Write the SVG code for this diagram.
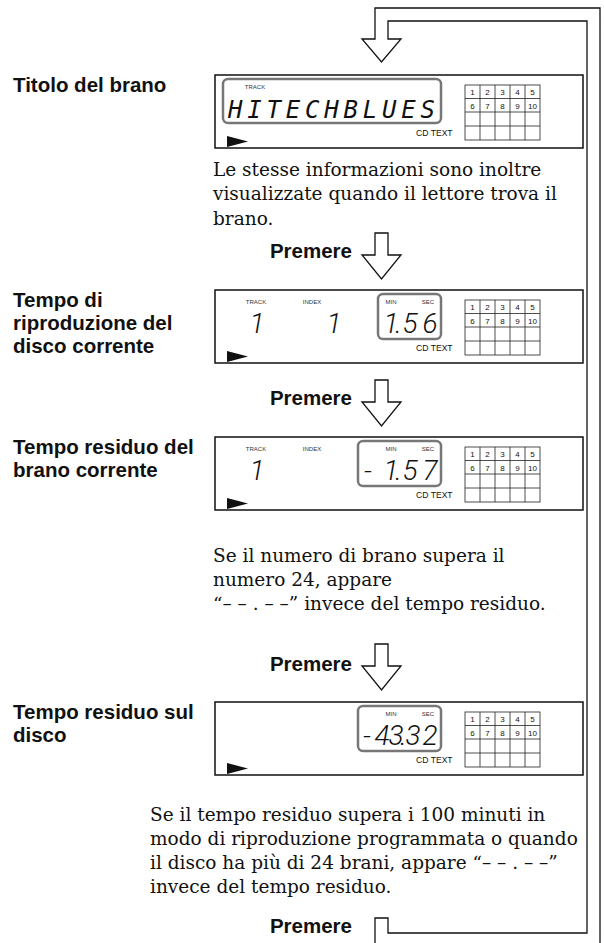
<svg xmlns="http://www.w3.org/2000/svg" width="604" height="943" viewBox="0 0 604 943">
<style>
.lbl{font-family:"Liberation Sans",Arial,sans-serif;font-weight:bold;font-size:20.5px;fill:#111}
.pre{font-family:"Liberation Sans",Arial,sans-serif;font-weight:bold;font-size:20.5px;fill:#111;text-anchor:end}
.para{font-family:"DejaVu Serif",serif;font-size:18.5px;fill:#111}
.frame{fill:#fff;stroke:#111;stroke-width:1.5}
.lcd{fill:none;stroke:#777;stroke-width:2.5}
.tiny{font-family:"Liberation Sans",Arial,sans-serif;font-size:6px;fill:#333;text-anchor:middle}
.cdt{font-family:"Liberation Sans",Arial,sans-serif;font-size:8.6px;fill:#111}
.grid{fill:none;stroke:#222;stroke-width:0.8}
.num{font-family:"Liberation Sans",Arial,sans-serif;font-size:8px;fill:#111;text-anchor:middle}
.seg{font-family:Roboto,"Liberation Sans",sans-serif;font-weight:300;font-style:italic;font-size:28px;fill:#111;text-anchor:middle}
.alpha{font-family:"DejaVu Sans Mono",monospace;font-style:oblique;font-size:24px;fill:#111}
.arrow{fill:#fff;stroke:#111;stroke-width:1.3}
</style>
<defs>
<g id="base">
<rect class="frame" x="215" y="0" width="368" height="73"/>
<polygon points="227,61 248,66.5 227,72" fill="#111"/>
<text class="cdt" x="416" y="61">CD TEXT</text>
<rect class="grid" x="465" y="10" width="75" height="55"/>
<path class="grid" d="M480,10V65M495,10V65M510,10V65M525,10V65M465,23.5H540M465,37H540M465,51H540"/>
<text class="num" x="472.5" y="20">1</text><text class="num" x="487.5" y="20">2</text><text class="num" x="502.5" y="20">3</text><text class="num" x="517.5" y="20">4</text><text class="num" x="532.5" y="20">5</text>
<text class="num" x="472.5" y="33.5">6</text><text class="num" x="487.5" y="33.5">7</text><text class="num" x="502.5" y="33.5">8</text><text class="num" x="517.5" y="33.5">9</text><text class="num" x="532.5" y="33.5">10</text>
</g>
</defs>

<g id="display1">
<use href="#base" transform="translate(0,75)"/>
<rect class="lcd" x="223" y="79" width="218" height="44" rx="5"/>
<text class="tiny" x="255" y="89">TRACK</text>
<text class="alpha" x="228" y="118" textLength="207" lengthAdjust="spacing">HITECHBLUES</text>
</g>

<g id="display2">
<use href="#base" transform="translate(0,290)"/>
<rect class="lcd" x="378" y="294" width="63" height="45" rx="5"/>
<text class="tiny" x="256" y="303.5">TRACK</text>
<text class="tiny" x="312" y="303.5">INDEX</text>
<text class="tiny" x="391" y="303.5">MIN</text>
<text class="tiny" x="428" y="303.5">SEC</text>
<text class="seg" x="257" y="333">1</text>
<text class="seg" x="334" y="333">1</text>
<text class="seg" x="391 398.5 410 430" y="333">1.56</text>
</g>

<g id="display3">
<use href="#base" transform="translate(0,437)"/>
<rect class="lcd" x="358" y="441" width="83" height="45" rx="5"/>
<text class="tiny" x="256" y="450.5">TRACK</text>
<text class="tiny" x="312" y="450.5">INDEX</text>
<text class="tiny" x="391" y="450.5">MIN</text>
<text class="tiny" x="428" y="450.5">SEC</text>
<text class="seg" x="257" y="480">1</text>
<text class="seg" x="368 391 398.5 410 430" y="480">-1.57</text>
</g>

<g id="display4">
<use href="#base" transform="translate(0,702)"/>
<rect class="lcd" x="358" y="706" width="83" height="45" rx="5"/>
<text class="tiny" x="391" y="715.5">MIN</text>
<text class="tiny" x="428" y="715.5">SEC</text>
<text class="seg" x="367 382 396 403.5 413 430" y="745">-43.32</text>
</g>

<g id="labels">
<text class="lbl" x="13" y="92">Titolo del brano</text>
<text class="lbl" x="13" y="307">Tempo di</text>
<text class="lbl" x="13" y="330">riproduzione del</text>
<text class="lbl" x="13" y="353">disco corrente</text>
<text class="lbl" x="13" y="454">Tempo residuo del</text>
<text class="lbl" x="13" y="477">brano corrente</text>
<text class="lbl" x="13" y="719">Tempo residuo sul</text>
<text class="lbl" x="13" y="742">disco</text>
</g>

<g id="note1">
<text class="para" x="213" y="176">Le stesse informazioni sono inoltre</text>
<text class="para" x="213" y="200">visualizzate quando il lettore trova il</text>
<text class="para" x="213" y="225">brano.</text>
</g>

<g id="note2">
<text class="para" x="213" y="562">Se il numero di brano supera il</text>
<text class="para" x="213" y="586">numero 24, appare</text>
<text class="para" x="213" y="610">“– – . – –” invece del tempo residuo.</text>
</g>

<g id="note3">
<text class="para" x="150" y="821">Se il tempo residuo supera i 100 minuti in</text>
<text class="para" x="150" y="845">modo di riproduzione programmata o quando</text>
<text class="para" x="150" y="869">il disco ha più di 24 brani, appare “– – . – –”</text>
<text class="para" x="150" y="893">invece del tempo residuo.</text>
</g>

<g id="premere">
<text class="pre" x="352" y="258">Premere</text>
<text class="pre" x="352" y="405">Premere</text>
<text class="pre" x="352" y="671">Premere</text>
<text class="pre" x="352" y="933">Premere</text>
</g>

<g id="connectors">
<path class="arrow" d="M388,39H401L381.5,62L362,39H375V8H600V950H375V918H388V933H587V21H388Z"/>
<polygon class="arrow" points="375,233 388,233 388,255 401,255 381.5,279 362,255 375,255"/>
<polygon class="arrow" points="375,380 388,380 388,402 401,402 381.5,426 362,402 375,402"/>
<polygon class="arrow" points="375,644 388,644 388,666 401,666 381.5,690 362,666 375,666"/>
</g>
</svg>
